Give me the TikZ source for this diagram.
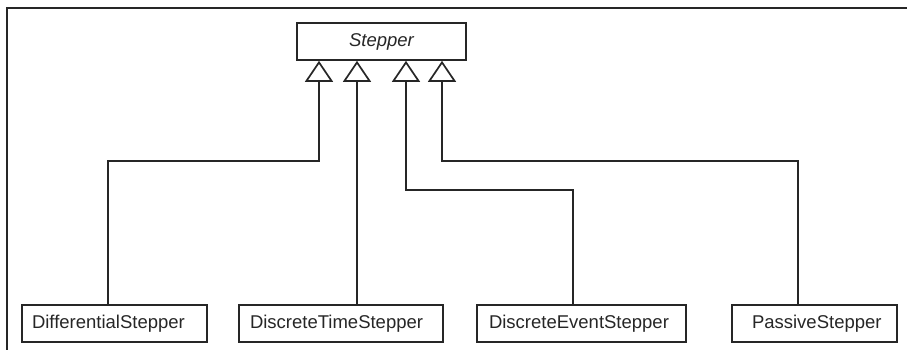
\documentclass[tikz,border=0pt]{standalone}
\usepackage{fontspec}
\setmainfont{Liberation Sans}
\usetikzlibrary{arrows.meta}
\definecolor{ink}{HTML}{262626}
\tikzset{
  cls/.style={draw=ink, line width=1.7pt, minimum height=37pt, inner xsep=0pt, inner ysep=0pt,
    align=left, font=\fontsize{18.5}{21}\selectfont, text=ink},
  inh/.style={draw=ink, line width=1.7pt, -{Triangle[open, length=21pt, width=28pt, fill=white]}},
  frame/.style={draw=ink, line width=1.7pt}
}
\begin{document}
\begin{tikzpicture}[x=1pt, y=-1pt]
\useasboundingbox (0,0) rectangle (907,350);
\coordinate (fa) at (7,350);
\coordinate (fb) at (7,8);
\coordinate (fc) at (907,8);
\draw[frame] (fa) -- (fb) -- (fc);
\node[draw=ink, line width=1.7pt, minimum width=169pt, minimum height=37pt, inner sep=0pt, text=ink,
  font=\fontsize{18.5}{21}\selectfont\itshape] (stepper) at (381.5,41.5) {Stepper};
\node[cls, text width=185pt] (diff) at (114.5,323.5) {\hspace*{10pt}DifferentialStepper};
\node[cls, text width=204pt] (dtime) at (341,323.5) {\hspace*{11pt}DiscreteTimeStepper};
\node[cls, text width=209pt] (devent) at (581.5,323.5) {\hspace*{12pt}DiscreteEventStepper};
\node[cls, text width=165pt] (passive) at (814.5,323.5) {\hspace*{20pt}PassiveStepper};
\coordinate (xa) at (108,0);
\coordinate (xb) at (319,161);
\coordinate (xc) at (357,0);
\coordinate (xd) at (406,190);
\coordinate (xe) at (573,0);
\coordinate (xf) at (442,161);
\coordinate (xg) at (798,0);
\draw[inh] (diff.north -| xa) |- (xb) -- (stepper.south -| xb);
\draw[inh] (dtime.north -| xc) -- (stepper.south -| xc);
\draw[inh] (devent.north -| xe) |- (xd) -- (stepper.south -| xd);
\draw[inh] (passive.north -| xg) |- (xf) -- (stepper.south -| xf);
\end{tikzpicture}
\end{document}
